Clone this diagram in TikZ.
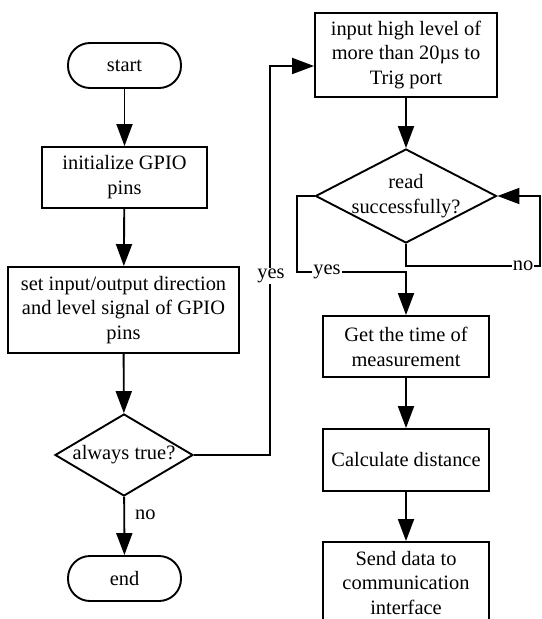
\documentclass[tikz,border=0pt]{standalone}
\usepackage{fontspec}
\setmainfont{Liberation Serif}
\usetikzlibrary{shapes.geometric,arrows.meta}

\tikzset{
  base/.style={draw, line width=1.9bp, align=center, inner sep=0pt,
    font=\fontsize{20.5}{25}\selectfont},
  terminal/.style={base, rectangle, rounded corners=22bp,
    minimum width=113bp, minimum height=45bp},
  procbox/.style={base, rectangle},
  decision/.style={base, diamond},
  flow/.style={line width=1.9bp, -{Triangle[length=22bp,width=16bp]}},
  lbl/.style={fill=white, inner sep=1bp, font=\fontsize{20.5}{24}\selectfont},
}

\begin{document}
\begin{tikzpicture}[x=1bp, y=-1bp]
  \clip (0,0) rectangle (542,619);
  \fill[white] (0,0) rectangle (542,619);

  % main column
  \node[terminal] (start) at (124.5,65.5) {start};
  \node[procbox, minimum width=165bp, minimum height=61bp] (init) at (124.5,177.5)
    {initialize GPIO\\pins};
  \node[procbox, minimum width=231bp, minimum height=86bp] (setdir) at (123.5,310)
    {set input/output direction\\and level signal of GPIO\\pins};
  \node[decision, minimum width=138bp, minimum height=82bp] (always) at (124,455)
    {\makebox[0pt]{always true?}};
  \node[terminal] (finish) at (124.5,578.5) {end};

  % measurement column
  \node[procbox, minimum width=182bp, minimum height=84bp] (trig) at (406,55)
    {input high level of\\more than 20µs to\\Trig port};
  \node[decision, minimum width=181bp, minimum height=94bp] (read) at (406,196)
    {\makebox[0pt]{read}\\\makebox[0pt]{successfully?}};
  \node[procbox, minimum width=166bp, minimum height=61bp] (gettime) at (406,346.5)
    {Get the time of\\measurement};
  \node[procbox, minimum width=166bp, minimum height=62bp] (calc) at (406,460)
    {Calculate distance};
  \node[procbox, minimum width=166bp, minimum height=82bp] (send) at (406,583)
    {Send data to\\communication\\interface};

  % bend points
  \coordinate (yesup) at (270,66);
  \coordinate (noloop) at (540,266);
  \coordinate (yesdown) at (297,272);

  % connectors of the main column
  \draw[flow] (start) -- (init);
  \draw[flow] (init) -- (setdir);
  \draw[flow] (setdir) -- (always);
  \draw[flow] (always) -- (finish);
  \node[lbl, anchor=west] (nolbl) at (134,515) {no};

  \draw[flow] (always.east) -| (yesup) -- (yesup -| trig.west);
  \node[lbl] (yeslbl) at (271,276) {yes};

  % connectors of the measurement column
  \draw[flow] (trig) -- (read);
  \draw[flow] (read.south) |- (noloop) |- (read.east);
  \node[lbl] (noloopl) at (523,266) {no};
  \draw[flow] (read.west) -| (yesdown) -| (gettime.north);
  \node[lbl] (yesloopl) at (327,272) {yes};
  \draw[flow] (gettime) -- (calc);
  \draw[flow] (calc) -- (send);
\end{tikzpicture}
\end{document}
